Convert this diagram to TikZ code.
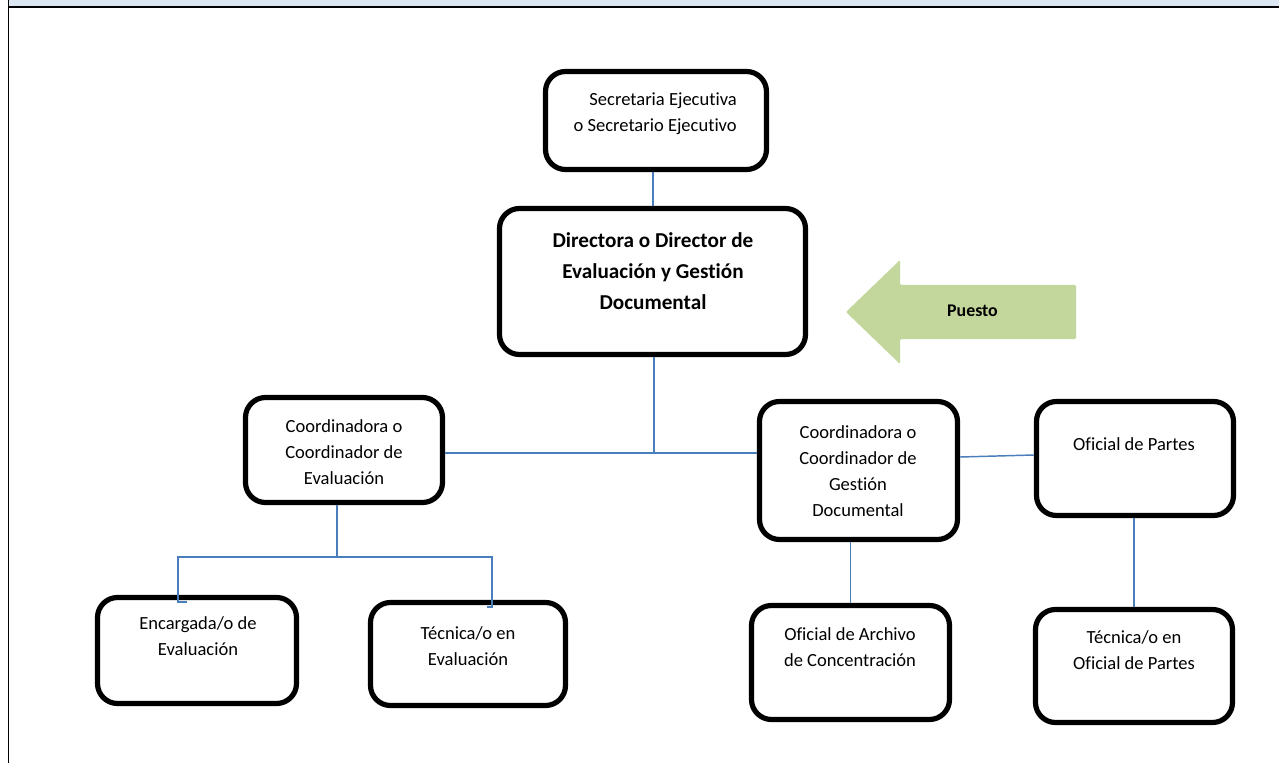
\documentclass[tikz,border=0pt]{standalone}
\usepackage{fontspec}
\setmainfont{Carlito}[Ligatures={NoCommon}]
\newdimen\pxu
\pxu=0.75pt
\definecolor{bandblue}{HTML}{DCE6F2}
\definecolor{linkblue}{HTML}{4A7EBB}
\definecolor{arrowgreen}{HTML}{C3D69B}
\begin{document}
\begin{tikzpicture}[x=0.75pt,y=-0.75pt,
  box/.style={draw=black, line width=3.9pt, rounded corners=15pt, inner sep=0pt},
  txt/.style={align=center, inner sep=0pt, font=\fontsize{13.9}{19.5}\selectfont},
  boldtxt/.style={align=center, inner sep=0pt, font=\fontsize{15.9}{23.25}\selectfont\bfseries},
  conn/.style={draw=linkblue, line width=1.1pt},
  frame/.style={draw=black}]
\useasboundingbox (0,0) rectangle (1279,763);
% header band and frame
\fill[bandblue] (9,0) rectangle (1279,7);
\draw[frame, line width=1.5pt] (9,7.5) -- (1279,7.5);
\draw[frame, line width=1.1pt] (8.5,0) -- (8.5,763);
% boxes
\node[box, minimum width=221\pxu, minimum height=98\pxu] (sec) at (656,120.5) {};
\node[box, minimum width=306\pxu, minimum height=146\pxu] (dir) at (652.5,281.5) {};
\node[box, minimum width=197\pxu, minimum height=105\pxu] (ce) at (344,450) {};
\node[box, minimum width=199\pxu, minimum height=106\pxu] (enc) at (197,650.5) {};
\node[box, minimum width=195\pxu, minimum height=103\pxu] (te) at (468,654) {};
\node[box, minimum width=198\pxu, minimum height=138\pxu] (cg) at (858.5,470.5) {};
\node[box, minimum width=197\pxu, minimum height=114\pxu] (op) at (1135,458.5) {};
\node[box, minimum width=198\pxu, minimum height=114\pxu] (oa) at (850.5,662.5) {};
\node[box, minimum width=197\pxu, minimum height=113\pxu] (tp) at (1134,666) {};
% texts
\node[txt, align=right, anchor=east] (sec-t) at (737,113.5) {Secretaria Ejecutiva\\o Secretario Ejecutivo};
\node[boldtxt] (dir-t) at (653,271) {Directora o Director de\\Evaluación y Gestión\\Documental};
\node[txt] (ce-t) at (344,452) {Coordinadora o\\Coordinador de\\Evaluación};
\node[txt] (enc-t) at (198,636.5) {Encargada/o de\\Evaluación};
\node[txt] (te-t) at (468,646) {Técnica/o en\\Evaluación};
\node[txt] (cg-t) at (858,471) {Coordinadora o\\Coordinador de\\Gestión\\Documental};
\node[txt] (op-t) at (1134,444) {Oficial de Partes};
\node[txt] (oa-t) at (850,647) {Oficial de Archivo\\de Concentración};
\node[txt] (tp-t) at (1134,650.5) {Técnica/o en\\Oficial de Partes};
% arrow
\fill[arrowgreen, rounded corners=1pt] (846,312) -- (900,260) -- (900,285) -- (1076,285) -- (1076,339) -- (900,339) -- (900,364) -- cycle;
\node[inner sep=0pt, font=\fontsize{13.4}{16}\selectfont\bfseries] (puesto) at (972.5,311) {Puesto};
% connectors
\coordinate (j) at (654,453);
\coordinate (k) at (337,557);
\coordinate (kl) at (178,557);
\coordinate (kr) at (492,557);
\draw[conn] (dir.north -| 653,0) -- (sec.south -| 653,0);
\draw[conn] (dir.south -| j) -- (j);
\draw[conn] (ce.east |- j) -- (cg.west |- j);
\draw[conn] (cg.east |- 0,457) -- (op.west |- 0,455);
\draw[conn] (ce.south -| k) -- (k);
\draw[conn] (187,602) -- (kl |- 0,602) -- (kl) -- (kr) -- (kr |- 0,607) -- (487,607);
\draw[conn] (oa.north |- cg.south) -- (oa.north);
\draw[conn] (tp.north |- op.south) -- (tp.north);
\end{tikzpicture}
\end{document}
